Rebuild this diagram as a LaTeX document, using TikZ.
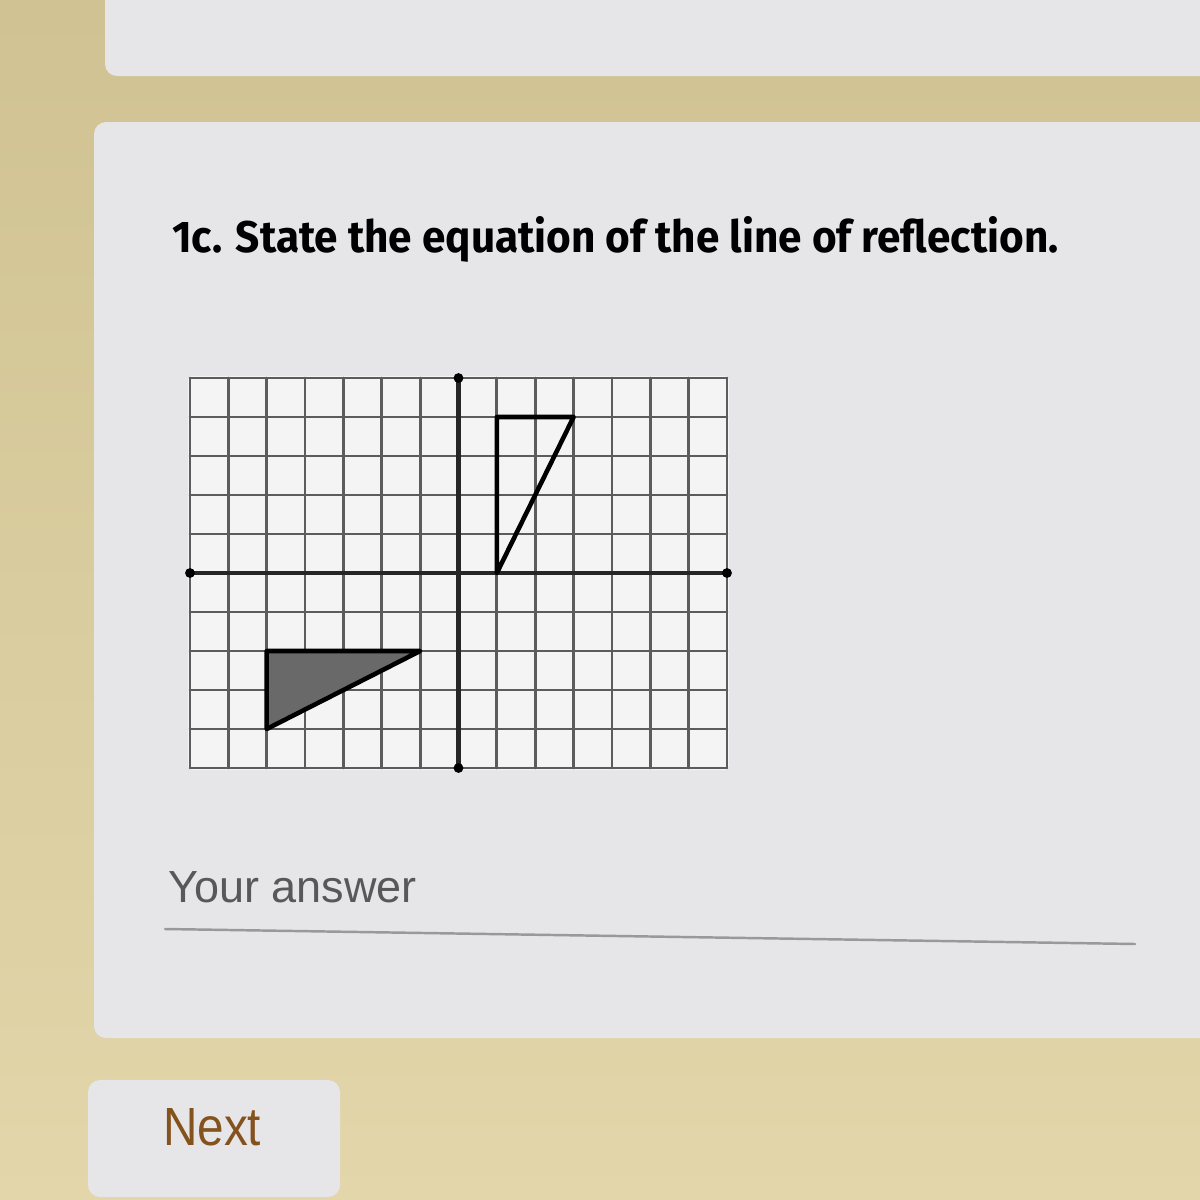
\documentclass[tikz,border=0pt]{standalone}
\usepackage{fontspec}
\setmainfont{Liberation Sans}
\newfontfamily\titlefont{Fira Sans}
\usetikzlibrary{positioning}
\definecolor{deskbeige}{RGB}{208,194,146}
\definecolor{desklight}{RGB}{226,214,170}
\definecolor{cardgray}{RGB}{230,229,232}
\definecolor{papergray}{RGB}{244,244,245}
\definecolor{linegray}{RGB}{92,92,92}
\definecolor{shadegray}{RGB}{105,105,105}
\definecolor{hintgray}{RGB}{88,88,88}
\definecolor{nextbrown}{RGB}{132,82,28}
\tikzset{
  gridline/.style={linegray, line width=4pt},
  axisline/.style={black!85, line width=6.5pt},
  figline/.style={black, line width=6.5pt},
  card/.style={fill=cardgray, rounded corners=0.6cm},
}
\begin{document}
\begin{tikzpicture}[x=0.05cm, y=-0.05cm, line join=round, line cap=round]
  \useasboundingbox (0,0) rectangle (1200,1200);
  \shade[top color=deskbeige, bottom color=desklight] (0,0) rectangle (1200,1200);
  % cards
  \fill[card] (105,-40) rectangle (1240,76);
  \fill[card] (94,122) rectangle (1240,1038);
  \fill[card] (88,1080) rectangle (340,1197);
  % question
  \node[anchor=base west, inner sep=0pt] (title) at (172,252)
    {\resizebox{44.3cm}{1.8cm}{\titlefont\bfseries 1c. State the equation of the line of reflection.}};
  % coordinate grid
  \fill[papergray, rounded corners=0.15cm] (188,376) rectangle (729,770);
  \begin{scope}[shift={(458.5,573)}, x=1.918cm, y=1.95cm]
    \foreach \i in {-7,...,7} \draw[gridline] (\i,-5) -- (\i,5);
    \foreach \j in {-5,...,5} \draw[gridline] (-7,\j) -- (7,\j);
    \draw[axisline] (-7,0) -- (7,0);
    \draw[axisline] (0,-5) -- (0,5);
    \foreach \p in {(-7,0),(7,0),(0,5),(0,-5)} \fill \p circle (7pt);
    \draw[figline] (1,0) -- (1,4) -- (3,4) -- cycle;
    \filldraw[figline, fill=shadegray] (-5,-2) -- (-1,-2) -- (-5,-4) -- cycle;
  \end{scope}
  % answer field
  \node[anchor=base west, inner sep=0pt, text=hintgray, font=\fontsize{64}{70}\selectfont] (answer) at (168,902) {Your answer};
  \coordinate (lineL) at (165,929);
  \coordinate (lineR) at (1135,944);
  \draw[black!40, line width=3.5pt] (lineL) -- (lineR);
  \node[anchor=base west, inner sep=0pt, text=nextbrown] (next) at (163,1145)
    {\resizebox{4.9cm}{1.85cm}{Next}};
\end{tikzpicture}
\end{document}
